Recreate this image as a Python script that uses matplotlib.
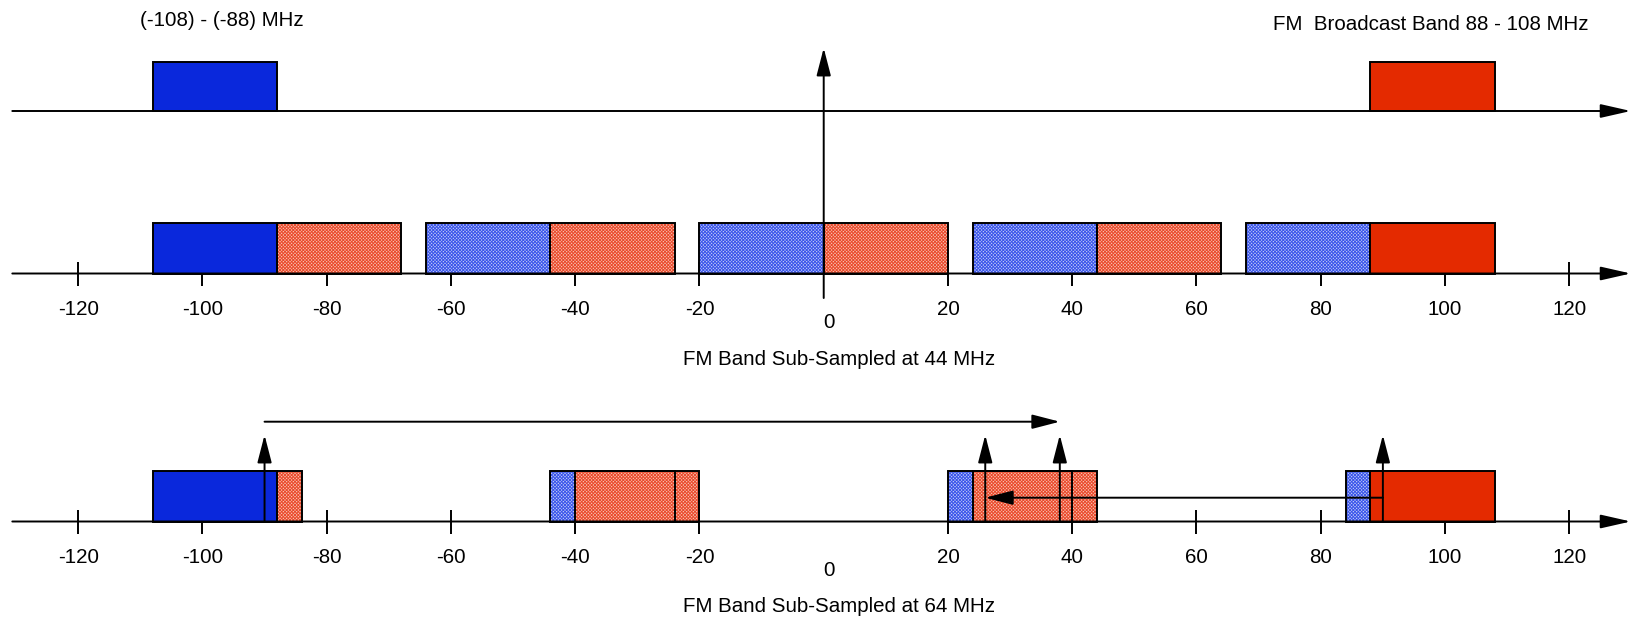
# FM band sub-sampling diagram

import matplotlib.pyplot as plt
from matplotlib.patches import Rectangle, FancyArrowPatch

plt.rcParams['font.family'] = ['Liberation Sans', 'DejaVu Sans']
plt.rcParams['hatch.linewidth'] = 0.7

# frequencies in MHz
tick_values = [-120, -100, -80, -60, -40, -20, 20, 40, 60, 80, 100, 120]
tick_labels = ["-120", "-100", "-80", "-60", "-40", "-20", "20", "40", "60", "80", "100", "120"]

fm_band = (88, 108)
image_band = (-108, -88)

# replicas when sub-sampled at 44 MHz
mid_blue_copies = [(-64, -44), (-20, 0), (24, 44), (68, 88)]
mid_red_copies = [(-88, -68), (-44, -24), (0, 20), (44, 64)]

# replicas when sub-sampled at 64 MHz
bot_blue_copies = [(-44, -24), (20, 40), (84, 104)]
bot_red_copies = [(-104, -84), (-40, -20), (24, 44)]

# marker arrows in the 64 MHz case
bot_markers = [-90, 26, 38, 90]
bot_shifts = [(-90, 38), (90, 26)]

# colours
blue_solid = "#0a28dc"
red_solid = "#e42a00"
blue_hatch = ("#c2cbf8", "#3a55ea")
red_hatch = ("#f8c4b4", "#ea4a2c")

# row layout in pixel units (y grows downward)
top_axis, top_box = 111, 62
mid_axis, mid_box = 273.5, 222.5
bot_axis, bot_box = 521.5, 471

fig = plt.figure(figsize=(16.35, 6.18), dpi=100)
ax = fig.add_axes([0, 0, 1, 1])
ax.set_xlim(-132.58, 130.58)
ax.set_ylim(618, 0)
ax.axis("off")

LW = 1.4


def arrow(x0, y0, x1, y1, hl=17, hw=4.4):
    ax.add_patch(FancyArrowPatch((x0, y0), (x1, y1),
                                 arrowstyle=f"-|>,head_length={hl},head_width={hw}",
                                 mutation_scale=1, lw=LW, color="black",
                                 shrinkA=0, shrinkB=0, zorder=6))


def solid_box(lo, hi, top, bottom, color):
    ax.add_patch(Rectangle((lo, top), hi - lo, bottom - top, facecolor=color,
                           edgecolor="black", lw=LW, zorder=4))


def hatched_fill(lo, hi, top, bottom, colors):
    ax.add_patch(Rectangle((lo, top), hi - lo, bottom - top, facecolor=colors[0],
                           edgecolor=colors[1], hatch="xxxxxxxxxx", lw=0, zorder=2))


def outline(lo, hi, top, bottom):
    ax.add_patch(Rectangle((lo, top), hi - lo, bottom - top, fill=False,
                           edgecolor="black", lw=LW, zorder=3))


def freq_axis(y, with_ticks=True):
    arrow(-130.6, y, 129.9, y, hl=18.5, hw=4.2)
    if with_ticks:
        ax.vlines(tick_values, y - 12, y + 12, color="black", lw=LW, zorder=1)
        for t, lab in zip(tick_values, tick_labels):
            ax.text(t, y + 36, lab, ha="center", va="center", fontsize=14.8)
        ax.text(0.85, y + 49, "0", ha="center", va="center", fontsize=14.8)


# top row: original spectrum
freq_axis(top_axis, with_ticks=False)
solid_box(*image_band, top_box, top_axis, blue_solid)
solid_box(*fm_band, top_box, top_axis, red_solid)
arrow(0, 298, 0, 48, hl=17, hw=4.4)
ax.text(-96.8, 20, "(-108) - (-88) MHz", ha="center", va="center", fontsize=14.8)
ax.text(97.7, 24, "FM  Broadcast Band 88 - 108 MHz", ha="center", va="center", fontsize=14.8)

# middle row: sub-sampled at 44 MHz
freq_axis(mid_axis)
for lo, hi in mid_blue_copies:
    hatched_fill(lo, hi, mid_box, mid_axis, blue_hatch)
    outline(lo, hi, mid_box, mid_axis)
for lo, hi in mid_red_copies:
    hatched_fill(lo, hi, mid_box, mid_axis, red_hatch)
    outline(lo, hi, mid_box, mid_axis)
solid_box(*image_band, mid_box, mid_axis, blue_solid)
solid_box(*fm_band, mid_box, mid_axis, red_solid)
ax.text(2.4, 359.5, "FM Band Sub-Sampled at 44 MHz", ha="center", va="center", fontsize=14.8)

# bottom row: sub-sampled at 64 MHz
freq_axis(bot_axis)
for lo, hi in bot_blue_copies:
    hatched_fill(lo, hi, bot_box, bot_axis, blue_hatch)
for lo, hi in bot_red_copies:
    hatched_fill(lo, hi, bot_box, bot_axis, red_hatch)
for lo, hi in bot_blue_copies + bot_red_copies:
    outline(lo, hi, bot_box, bot_axis)
solid_box(*image_band, bot_box, bot_axis, blue_solid)
solid_box(*fm_band, bot_box, bot_axis, red_solid)

for m in bot_markers:
    arrow(m, bot_axis, m, 435)
arrow(bot_shifts[0][0], 421.7, bot_shifts[0][1], 421.7)
arrow(bot_shifts[1][0], 497.7, bot_shifts[1][1], 497.7)
ax.text(2.4, 606.6, "FM Band Sub-Sampled at 64 MHz", ha="center", va="center", fontsize=14.8)

fig.savefig("out.png", dpi=100)
